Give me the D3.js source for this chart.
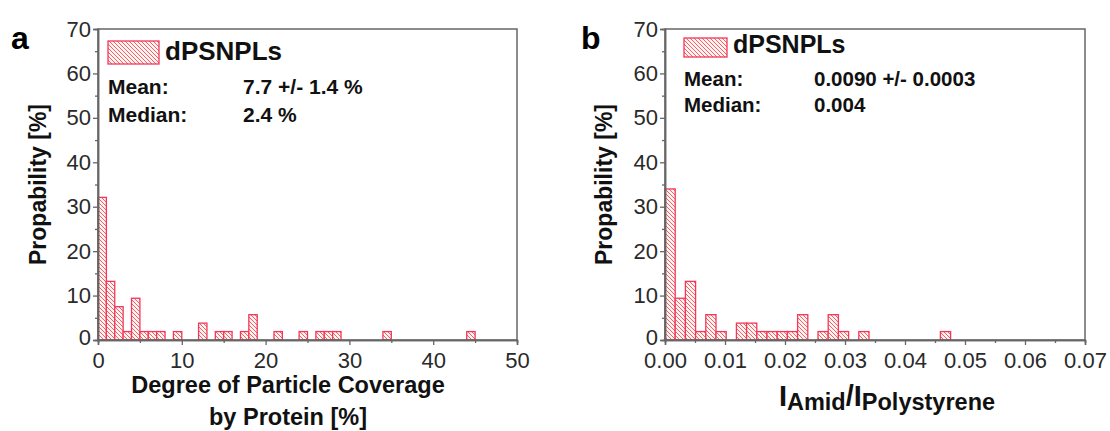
<!DOCTYPE html>
<html>
<head>
<meta charset="utf-8">
<script src="https://cdn.jsdelivr.net/npm/d3@7"></script>
<style>
  body { margin: 0; background: #fff; }
  text { font-family: "Liberation Sans", Arial, sans-serif; }
</style>
</head>
<body>
<svg id="chart" width="1110" height="431"></svg>
<script>
// Panel a: degree of particle coverage (bin start, %), bin width 1
var binsA = [0, 1, 2, 3, 4, 5, 6, 7, 9, 12, 14, 15, 17, 18, 21, 24, 26, 27, 28, 34, 44];
var probA = [32.1, 13.2, 7.5, 1.9, 9.4, 1.9, 1.9, 1.9, 1.9, 3.8, 1.9, 1.9, 1.9, 5.7, 1.9, 1.9, 1.9, 1.9, 1.9, 1.9, 1.9];
var binWidthA = 1;

// Panel b: I_Amid / I_Polystyrene (bin start), bin width 0.0017
var binsB = [0, 0.0017, 0.0034, 0.0051, 0.0068, 0.0085, 0.0119, 0.0136, 0.0153, 0.017, 0.0187, 0.0204, 0.0221, 0.0255, 0.0272, 0.0289, 0.0323, 0.0459];
var probB = [34.0, 9.4, 13.2, 1.9, 5.7, 1.9, 3.8, 3.8, 1.9, 1.9, 1.9, 1.9, 5.7, 1.9, 5.7, 1.9, 1.9, 1.9];
var binWidthB = 0.0017;

var yTicks = [0, 10, 20, 30, 40, 50, 60, 70];
var xTicksA = [0, 10, 20, 30, 40, 50];
var xTicksB = [0, 0.01, 0.02, 0.03, 0.04, 0.05, 0.06, 0.07];

var svg = d3.select("#chart");
var barColor = "#f2385a";

// diagonal hatch like the original
var defs = svg.append("defs");
var pat = defs.append("pattern")
    .attr("id", "hatch")
    .attr("patternUnits", "userSpaceOnUse")
    .attr("width", 4).attr("height", 4);
pat.append("rect").attr("width", 4).attr("height", 4).attr("fill", "#fff3ee");
pat.append("path")
    .attr("d", "M0,0 L4,4 M-1,3 L1,5 M3,-1 L5,1")
    .attr("stroke", "#f06070")
    .attr("stroke-width", 1);

function drawPanel(opt) {
  var g = svg.append("g");
  var x = d3.scaleLinear().domain(opt.xDomain).range([opt.left, opt.right]);
  var y = d3.scaleLinear().domain([0, 70]).range([opt.bottom, opt.top]);

  // bars
  g.selectAll("rect.bar")
    .data(opt.bins.map(function(b, i) { return { x0: b, p: opt.probs[i] }; }))
    .enter()
    .append("rect")
    .attr("class", "bar")
    .attr("x", function(d) { return x(d.x0); })
    .attr("y", function(d) { return y(d.p); })
    .attr("width", function(d) { return x(d.x0 + opt.binWidth) - x(d.x0); })
    .attr("height", function(d) { return y(0) - y(d.p); })
    .attr("fill", "url(#hatch)")
    .attr("stroke", barColor)
    .attr("stroke-width", 1.3);

  // frame
  g.append("rect")
    .attr("x", opt.left).attr("y", opt.top)
    .attr("width", opt.right - opt.left).attr("height", opt.bottom - opt.top)
    .attr("fill", "none").attr("stroke", "#666").attr("stroke-width", 1.5);

  // x axis
  var xAxis = g.append("g")
    .attr("transform", "translate(0," + opt.bottom + ")")
    .call(d3.axisBottom(x).tickValues(opt.xTicks).tickSize(5).tickPadding(6)
      .tickFormat(opt.xFormat));
  var xMinor = g.append("g")
    .attr("transform", "translate(0," + opt.bottom + ")")
    .call(d3.axisBottom(x).tickValues(opt.xMinor).tickSize(3).tickFormat(""));

  // y axis
  var yAxis = g.append("g")
    .attr("transform", "translate(" + opt.left + ",0)")
    .call(d3.axisLeft(y).tickValues(yTicks).tickSize(5).tickPadding(2));
  var yMinor = g.append("g")
    .attr("transform", "translate(" + opt.left + ",0)")
    .call(d3.axisLeft(y).tickValues([5, 15, 25, 35, 45, 55, 65]).tickSize(3).tickFormat(""));

  [xAxis, xMinor, yAxis, yMinor].forEach(function(a) {
    a.select(".domain").attr("stroke", "#666").attr("stroke-width", 1.5);
    a.selectAll(".tick line").attr("stroke", "#666").attr("stroke-width", 1.3);
    a.selectAll(".tick text")
      .style("font-size", "22px")
      .style("font-family", "'Liberation Sans', Arial, sans-serif")
      .attr("fill", "#2a2a2a");
  });
  xAxis.selectAll(".tick text").attr("dy", "0").attr("y", 28);
  // lift the lowest y label a touch so it clears the x labels
  yAxis.selectAll(".tick text").filter(function(d) { return d === 0; }).attr("dy", "0.22em");

  // panel letter
  g.append("text")
    .attr("x", opt.letterX).attr("y", 49)
    .style("font-size", "32px").style("font-weight", "bold")
    .text(opt.letter);

  // y title
  g.append("text")
    .attr("transform", "translate(" + opt.yTitleX + "," + ((opt.top + opt.bottom) / 2) + ") rotate(-90)")
    .attr("text-anchor", "middle")
    .style("font-size", "23px").style("font-weight", "bold")
    .attr("fill", "#111")
    .text("Propability [%]");

  // legend
  var lg = opt.legend;
  g.append("rect")
    .attr("x", lg.x).attr("y", lg.y)
    .attr("width", lg.w).attr("height", lg.h)
    .attr("fill", "url(#hatch)")
    .attr("stroke", barColor).attr("stroke-width", 1.3);
  g.append("text")
    .attr("x", lg.x + lg.w + 6).attr("y", lg.y + lg.h - 4)
    .style("font-size", lg.fs + "px").style("font-weight", "bold")
    .attr("fill", "#111")
    .text("dPSNPLs");

  var stats = [["Mean:", opt.mean], ["Median:", opt.median]];
  stats.forEach(function(s, i) {
    g.append("text")
      .attr("x", lg.x).attr("y", lg.statY + i * lg.gap)
      .style("font-size", lg.sfs + "px").style("font-weight", "bold").attr("fill", "#111")
      .text(s[0]);
    g.append("text")
      .attr("x", lg.valX).attr("y", lg.statY + i * lg.gap)
      .style("font-size", lg.sfs + "px").style("font-weight", "bold").attr("fill", "#111")
      .text(s[1]);
  });

  return g;
}

var ga = drawPanel({
  letter: "a", letterX: 11, yTitleX: 46,
  left: 98, right: 517, top: 29, bottom: 340,
  xDomain: [0, 50], xTicks: xTicksA, xMinor: [5, 15, 25, 35, 45],
  xFormat: d3.format("d"),
  bins: binsA, probs: probA, binWidth: binWidthA,
  legend: { x: 108, y: 41, w: 51, h: 23, fs: 26, sfs: 21, statY: 94, gap: 28, valX: 243 },
  mean: "7.7 +/- 1.4 %", median: "2.4 %"
});

ga.append("text")
  .attr("x", 288).attr("y", 393)
  .attr("text-anchor", "middle")
  .style("font-size", "23.5px").style("font-weight", "bold").attr("fill", "#111")
  .text("Degree of Particle Coverage");
ga.append("text")
  .attr("x", 288).attr("y", 425)
  .attr("text-anchor", "middle")
  .style("font-size", "23.5px").style("font-weight", "bold").attr("fill", "#111")
  .text("by Protein [%]");

var gb = drawPanel({
  letter: "b", letterX: 581, yTitleX: 612,
  left: 665, right: 1085, top: 29, bottom: 340,
  xDomain: [0, 0.07], xTicks: xTicksB,
  xMinor: [0.005, 0.015, 0.025, 0.035, 0.045, 0.055, 0.065],
  xFormat: d3.format(".2f"),
  bins: binsB, probs: probB, binWidth: binWidthB,
  legend: { x: 684, y: 38, w: 43, h: 19, fs: 25, sfs: 20.5, statY: 86, gap: 26, valX: 814 },
  mean: "0.0090 +/- 0.0003", median: "0.004"
});

var xt = gb.append("text")
  .attr("x", 887).attr("y", 406)
  .attr("text-anchor", "middle")
  .style("font-weight", "bold").attr("fill", "#111");
xt.append("tspan").style("font-size", "29px").text("I");
xt.append("tspan").style("font-size", "23.5px").attr("dy", 4).text("Amid");
xt.append("tspan").style("font-size", "29px").attr("dy", -4).text("/I");
xt.append("tspan").style("font-size", "23.5px").attr("dy", 4).text("Polystyrene");
</script>
</body>
</html>
